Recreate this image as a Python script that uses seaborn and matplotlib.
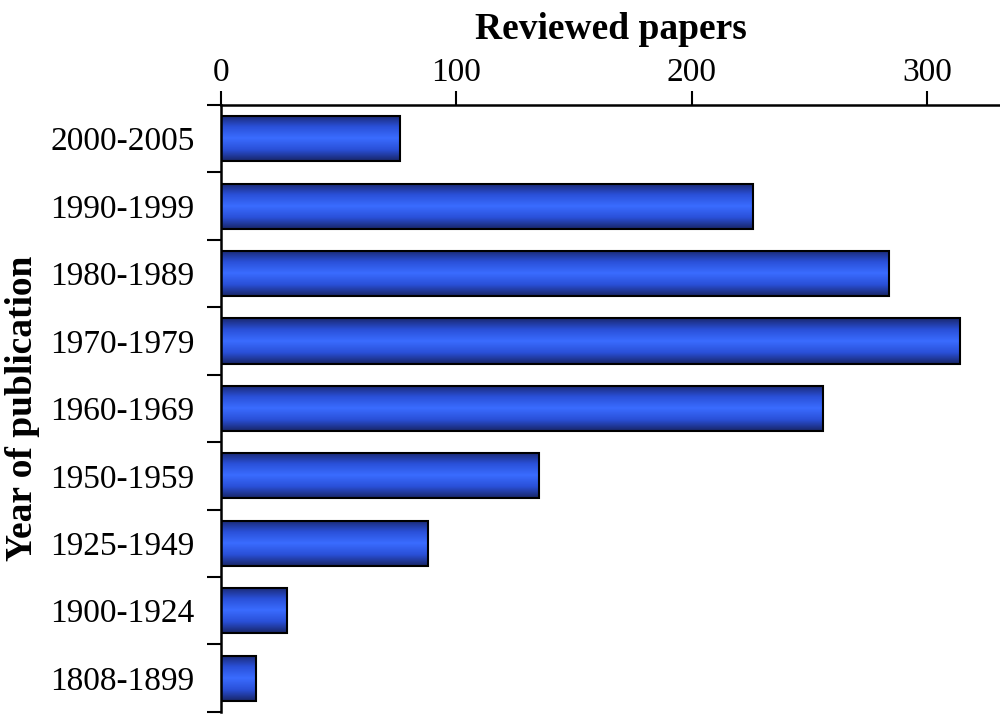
import numpy as np
import pandas as pd
import matplotlib
matplotlib.use("Agg")
import matplotlib.pyplot as plt
from matplotlib.colors import LinearSegmentedColormap
import seaborn as sns

periods = ["2000-2005", "1990-1999", "1980-1989", "1970-1979", "1960-1969",
           "1950-1959", "1925-1949", "1900-1924", "1808-1899"]
papers = [76, 226, 284, 314, 256, 135, 88, 28, 15]
x_ticks = [0, 100, 200, 300]

df = pd.DataFrame({"period": periods, "papers": papers})

sns.set_style("white")
plt.rcParams["font.family"] = ["Liberation Serif", "DejaVu Serif"]
plt.rcParams["text.color"] = "black"
plt.rcParams["xtick.color"] = "black"
plt.rcParams["ytick.color"] = "black"
plt.rcParams["axes.labelcolor"] = "black"

fig = plt.figure(figsize=(10, 7.14), dpi=100)
ax = fig.add_axes([0.221, 0.003, 0.779, 0.850])

sns.barplot(data=df, x="papers", y="period", orient="h", order=periods,
            width=0.67, color="#3366ff", edgecolor="black", linewidth=1.5, ax=ax)

# cylinder-like shading inside each bar
shade = LinearSegmentedColormap.from_list(
    "shade", ["#1a2870", "#2a50d8", "#3a6cff", "#2a50d8", "#182566"])
grad = np.linspace(0, 1, 256).reshape(-1, 1)
for p in ax.patches:
    x0, y0 = p.get_x(), p.get_y()
    w, h = p.get_width(), p.get_height()
    im = ax.imshow(grad, cmap=shade, aspect="auto",
                   extent=(x0, x0 + w, y0 + h, y0), zorder=p.get_zorder() - 0.1)
    im.set_clip_path(p)
    p.set_facecolor("none")
    p.set_zorder(3)

ax.set_xlim(0, 331)
ax.set_ylim(len(periods) - 0.5, -0.5)

ax.xaxis.tick_top()
ax.xaxis.set_label_position("top")
ax.set_xticks(x_ticks)
ax.set_xticklabels([str(t) for t in x_ticks])

ax.set_yticks(range(len(periods)))
ax.set_yticklabels(periods)
ax.set_yticks(np.arange(-0.5, len(periods), 1), minor=True)
ax.tick_params(axis="y", which="major", length=0, labelsize=24, pad=19)
ax.tick_params(axis="y", which="minor", length=10, width=1.5, direction="out", left=True)
ax.tick_params(axis="x", which="major", length=10, width=1.5, direction="out",
               labelsize=24, pad=2, top=True, bottom=False)

for side in ["right", "bottom"]:
    ax.spines[side].set_visible(False)
for side in ["top", "left"]:
    ax.spines[side].set_linewidth(1.8)
    ax.spines[side].set_color("black")

ax.set_xlabel("Reviewed papers", fontsize=27, fontweight="bold")
ax.xaxis.set_label_coords(0.5, 1.108)
ax.set_ylabel("Year of publication", fontsize=27, fontweight="bold")
ax.yaxis.set_label_coords(-0.232, 0.5)

fig.savefig("out.png", dpi=100)
